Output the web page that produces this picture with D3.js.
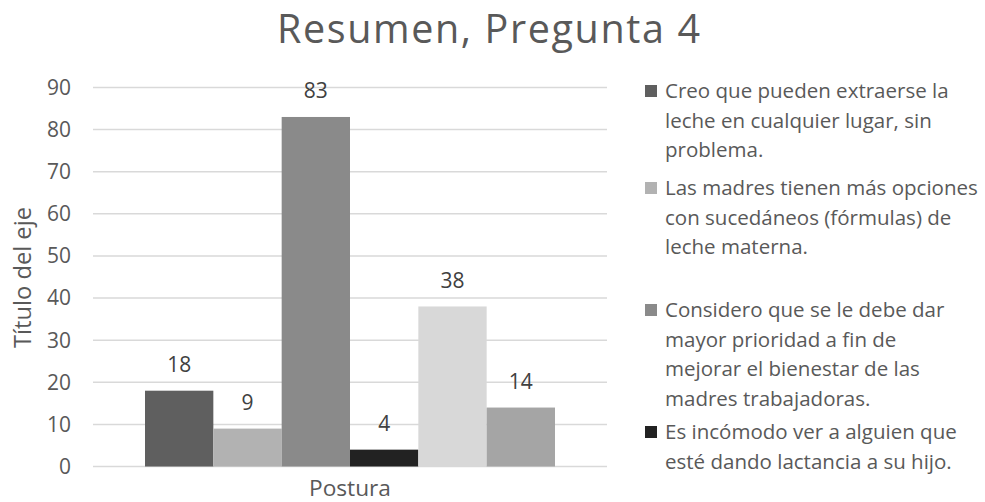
<!DOCTYPE html>
<html><head><meta charset="utf-8">
<script src="https://cdn.jsdelivr.net/npm/d3@7"></script>
<style>body{margin:0;background:#fff}svg{display:block}</style>
</head><body><svg id="c" width="985" height="502"></svg>
<script>
const title = "Resumen, Pregunta 4";
const category = "Postura";
const yTitle = "Título del eje";
const legendLines = [
  ["Creo que pueden extraerse la", "leche en cualquier lugar, sin", "problema."],
  ["Las madres tienen más opciones", "con sucedáneos (fórmulas) de", "leche materna."],
  ["Considero que se le debe dar", "mayor prioridad a fin de", "mejorar el bienestar de las", "madres trabajadoras."],
  ["Es incómodo ver a alguien que", "esté dando lactancia a su hijo."]
];
const values = [18, 9, 83, 4, 38, 14];
const colors = ["#5f5f5f", "#b2b2b2", "#8a8a8a", "#222222", "#d8d8d8", "#a5a5a5"];
const yTicks = [0, 10, 20, 30, 40, 50, 60, 70, 80, 90];

const FONT = "'Open Sans', Lato, sans-serif";
const svg = d3.select("#c");
const plot = {left: 93, right: 607, top: 87.5, bottom: 466.5};

function measure(str, size) {
  const t = svg.append("text").attr("font-family", FONT).attr("font-size", size).text(str);
  const w = t.node().getComputedTextLength();
  t.remove();
  return w;
}
function fitSize(str, target, base) { return base * target / measure(str, base); }
const sTitleFit = fitSize(title, 423, 40);
const sTitle = Math.min(sTitleFit, 39.5);
const titleLS = (423 - measure(title, sTitle)) / (title.length - 1);
const sLegend = fitSize("Las madres tienen más opciones", 313, 20);
const sTick = fitSize("90", 24, 20);
const sYTitle = fitSize(yTitle, 141, 20);
const sCat = fitSize(category, 82, 20);

const y = d3.scaleLinear().domain([0, 90]).range([plot.bottom, plot.top]);
const x0 = d3.scaleBand().domain([category]).range([plot.left, plot.right]).paddingInner(0).paddingOuter(0.1);
const groupW = 410;
const gx = (plot.left + plot.right) / 2 - groupW / 2;
const x1 = d3.scaleBand().domain(d3.range(values.length)).range([gx, gx + groupW]).padding(0);

svg.append("g").selectAll("line").data(yTicks).join("line")
  .attr("x1", plot.left).attr("x2", plot.right)
  .attr("y1", d => y(d)).attr("y2", d => y(d))
  .attr("stroke", "#d9d9d9").attr("stroke-width", 1.5);

svg.append("g").selectAll("text").data(yTicks).join("text")
  .attr("x", 71).attr("y", d => y(d)).attr("dy", "0.35em")
  .attr("text-anchor", "end").attr("font-family", FONT).attr("font-size", sTick)
  .attr("fill", "#595959").text(d => d);

svg.append("g").selectAll("rect").data(values).join("rect")
  .attr("x", (d, i) => x1(i)).attr("width", x1.bandwidth())
  .attr("y", d => y(d)).attr("height", d => y(0) - y(d))
  .attr("fill", (d, i) => colors[i]);

svg.append("g").selectAll("text").data(values).join("text")
  .attr("x", (d, i) => x1(i) + x1.bandwidth() / 2).attr("y", d => y(d) - 18.5)
  .attr("text-anchor", "middle").attr("font-family", FONT).attr("font-size", sTick)
  .attr("fill", "#404040").text(d => d);

svg.append("text").attr("x", x0(category) + x0.bandwidth() / 2).attr("y", 496)
  .attr("text-anchor", "middle").attr("font-family", FONT).attr("font-size", sCat)
  .attr("fill", "#595959").text(category);

svg.append("text").attr("transform", "translate(31,277.5) rotate(-90)")
  .attr("text-anchor", "middle").attr("font-family", FONT).attr("font-size", sYTitle)
  .attr("fill", "#595959").text(yTitle);

svg.append("text").attr("x", 488.5 + titleLS / 2).attr("y", 43)
  .attr("text-anchor", "middle").attr("font-family", FONT).attr("font-size", sTitle)
  .attr("letter-spacing", titleLS)
  .attr("fill", "#595959").text(title);

const legendY = [91, 188, 310, 432];
const lg = svg.append("g");
legendLines.forEach((lines, i) => {
  lg.append("rect").attr("x", 645).attr("y", legendY[i] - 6).attr("width", 12).attr("height", 12)
    .attr("fill", colors[i]);
  const t = lg.append("text").attr("font-family", FONT).attr("font-size", sLegend).attr("fill", "#595959");
  lines.forEach((ln, j) => {
    t.append("tspan").attr("x", 665).attr("y", legendY[i] + j * 29.5).attr("dy", "0.35em").text(ln);
  });
});
</script></body></html>
